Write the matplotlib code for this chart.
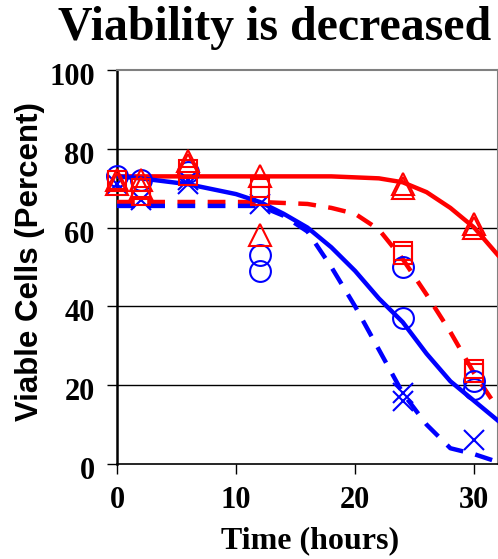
import matplotlib
matplotlib.use("Agg")
import matplotlib.pyplot as plt
import matplotlib.transforms as mtransforms

# Measured viability (percent) for each condition at each time point
tri_t = [0, 0, 2, 2, 6, 6, 12, 12, 24, 24, 30, 30]
tri_v = [72, 71, 72, 70, 77, 76, 73, 58, 71, 70, 61, 60]

sq_t = [0, 2, 2, 6, 6, 12, 12, 24, 24, 30, 30]
sq_v = [72, 70, 68, 75, 73, 70, 68, 54, 53, 24, 23]

circ_t = [0, 2, 6, 12, 12, 24, 24, 30, 30]
circ_v = [73, 72, 74, 53, 49, 50, 37, 21, 19]

x_t = [0, 2, 6, 6, 12, 24, 24, 30]
x_v = [71, 67, 72, 71, 66, 18, 16, 6]

# Model curves
red_solid_t = [0, 6, 12, 18, 22, 24, 26, 28, 30, 32]
red_solid_v = [73, 73, 73, 73, 72.5, 71.5, 69, 65, 60, 53]

red_dash_t = [0, 12, 16, 18, 20, 22, 24, 26, 28, 30, 32]
red_dash_v = [66.5, 66.5, 66, 65, 63.5, 59.5, 52, 43, 33.5, 23, 14]

blue_solid_t = [0, 2, 6, 10, 12, 14, 16, 18, 20, 22, 24, 26, 28, 30, 32]
blue_solid_v = [73, 72.5, 71, 68.5, 66.5, 63.5, 60, 55, 49, 42, 36, 28, 21, 16, 11]

blue_dash_t = [0, 12, 14, 16, 18, 20, 22, 24, 26, 28, 30, 32]
blue_dash_v = [65.5, 65.5, 63, 59, 50, 40, 29, 18, 10, 4, 2.5, 0.5]

x_ticks = [0, 10, 20, 30]
y_ticks = [0, 20, 40, 60, 80, 100]

serif = ["Liberation Serif", "DejaVu Serif"]
sans = ["Liberation Sans", "DejaVu Sans"]

fig = plt.figure(figsize=(4.98, 5.59), dpi=100)
ax = fig.add_axes([117 / 498, (559 - 464) / 559, 381 / 498, 394 / 559])

ax.set_xlim(0, 32)
ax.set_ylim(0, 100)

for yv in y_ticks[1:-1]:
    ax.axhline(yv, color="black", lw=1.0, zorder=1)

lw = 3.2
dash = (0, (4, 2.8))
ax.plot(red_solid_t, red_solid_v, color="#ff0000", lw=lw, zorder=3)
ax.plot(red_dash_t, red_dash_v, color="#ff0000", lw=lw, ls=dash, zorder=3)
ax.plot(blue_solid_t, blue_solid_v, color="#0000ff", lw=lw, zorder=3)
ax.plot(blue_dash_t, blue_dash_v, color="#0000ff", lw=lw, ls=dash, zorder=3)

ms = 15
mew = 1.5
ax.plot(circ_t, circ_v, ls="none", marker="o", ms=ms, mfc="none", mec="#0000ff",
        mew=mew, clip_on=False, zorder=4)
ax.plot(x_t, x_v, ls="none", marker="x", ms=ms, mec="#0000ff",
        mew=mew, clip_on=False, zorder=4)
ax.plot(sq_t, sq_v, ls="none", marker="s", ms=ms - 2, mfc="none", mec="#ff0000",
        mew=mew, clip_on=False, zorder=5)
ax.plot(tri_t, tri_v, ls="none", marker="^", ms=ms + 1, mfc="none", mec="#ff0000",
        mew=mew, clip_on=False, zorder=5)

ax.set_xticks(x_ticks)
ax.set_yticks(y_ticks)
ax.tick_params(direction="out", length=7, width=1.0, colors="black")
ax.tick_params(axis="x", pad=9)
ax.tick_params(axis="y", pad=9)
for lab in ax.get_xticklabels() + ax.get_yticklabels():
    lab.set_fontfamily(serif)
    lab.set_fontweight("bold")
    lab.set_fontsize(22)

# value labels on the y axis sit a little below their tick
shift = mtransforms.ScaledTranslation(0, -4 / 100, fig.dpi_scale_trans)
for lab in ax.get_yticklabels():
    lab.set_transform(lab.get_transform() + shift)

ax.spines["left"].set_linewidth(1.8)
ax.spines["bottom"].set_linewidth(1.2)
ax.spines["top"].set_color("#808080")
ax.spines["right"].set_color("#808080")
ax.spines["top"].set_linewidth(1.5)
ax.spines["right"].set_linewidth(1.5)

ax.set_xlabel("Time (hours)", family=serif, fontweight="bold", fontsize=23)
ax.xaxis.set_label_coords((310 - 117) / 381, (464 - 541) / 394)
ax.xaxis.label.set_va("center")
ax.set_ylabel("Viable Cells (Percent)", family=sans, fontweight="bold", fontsize=22.5)
ax.yaxis.set_label_coords((30 - 117) / 381, (464 - 262) / 394)
ax.yaxis.label.set_va("center")

fig.text(275 / 498, 1 - 28 / 559, "Viability is decreased", family=serif,
         fontweight="bold", fontsize=34.5, ha="center", va="center")

fig.savefig("out.png", dpi=100)
